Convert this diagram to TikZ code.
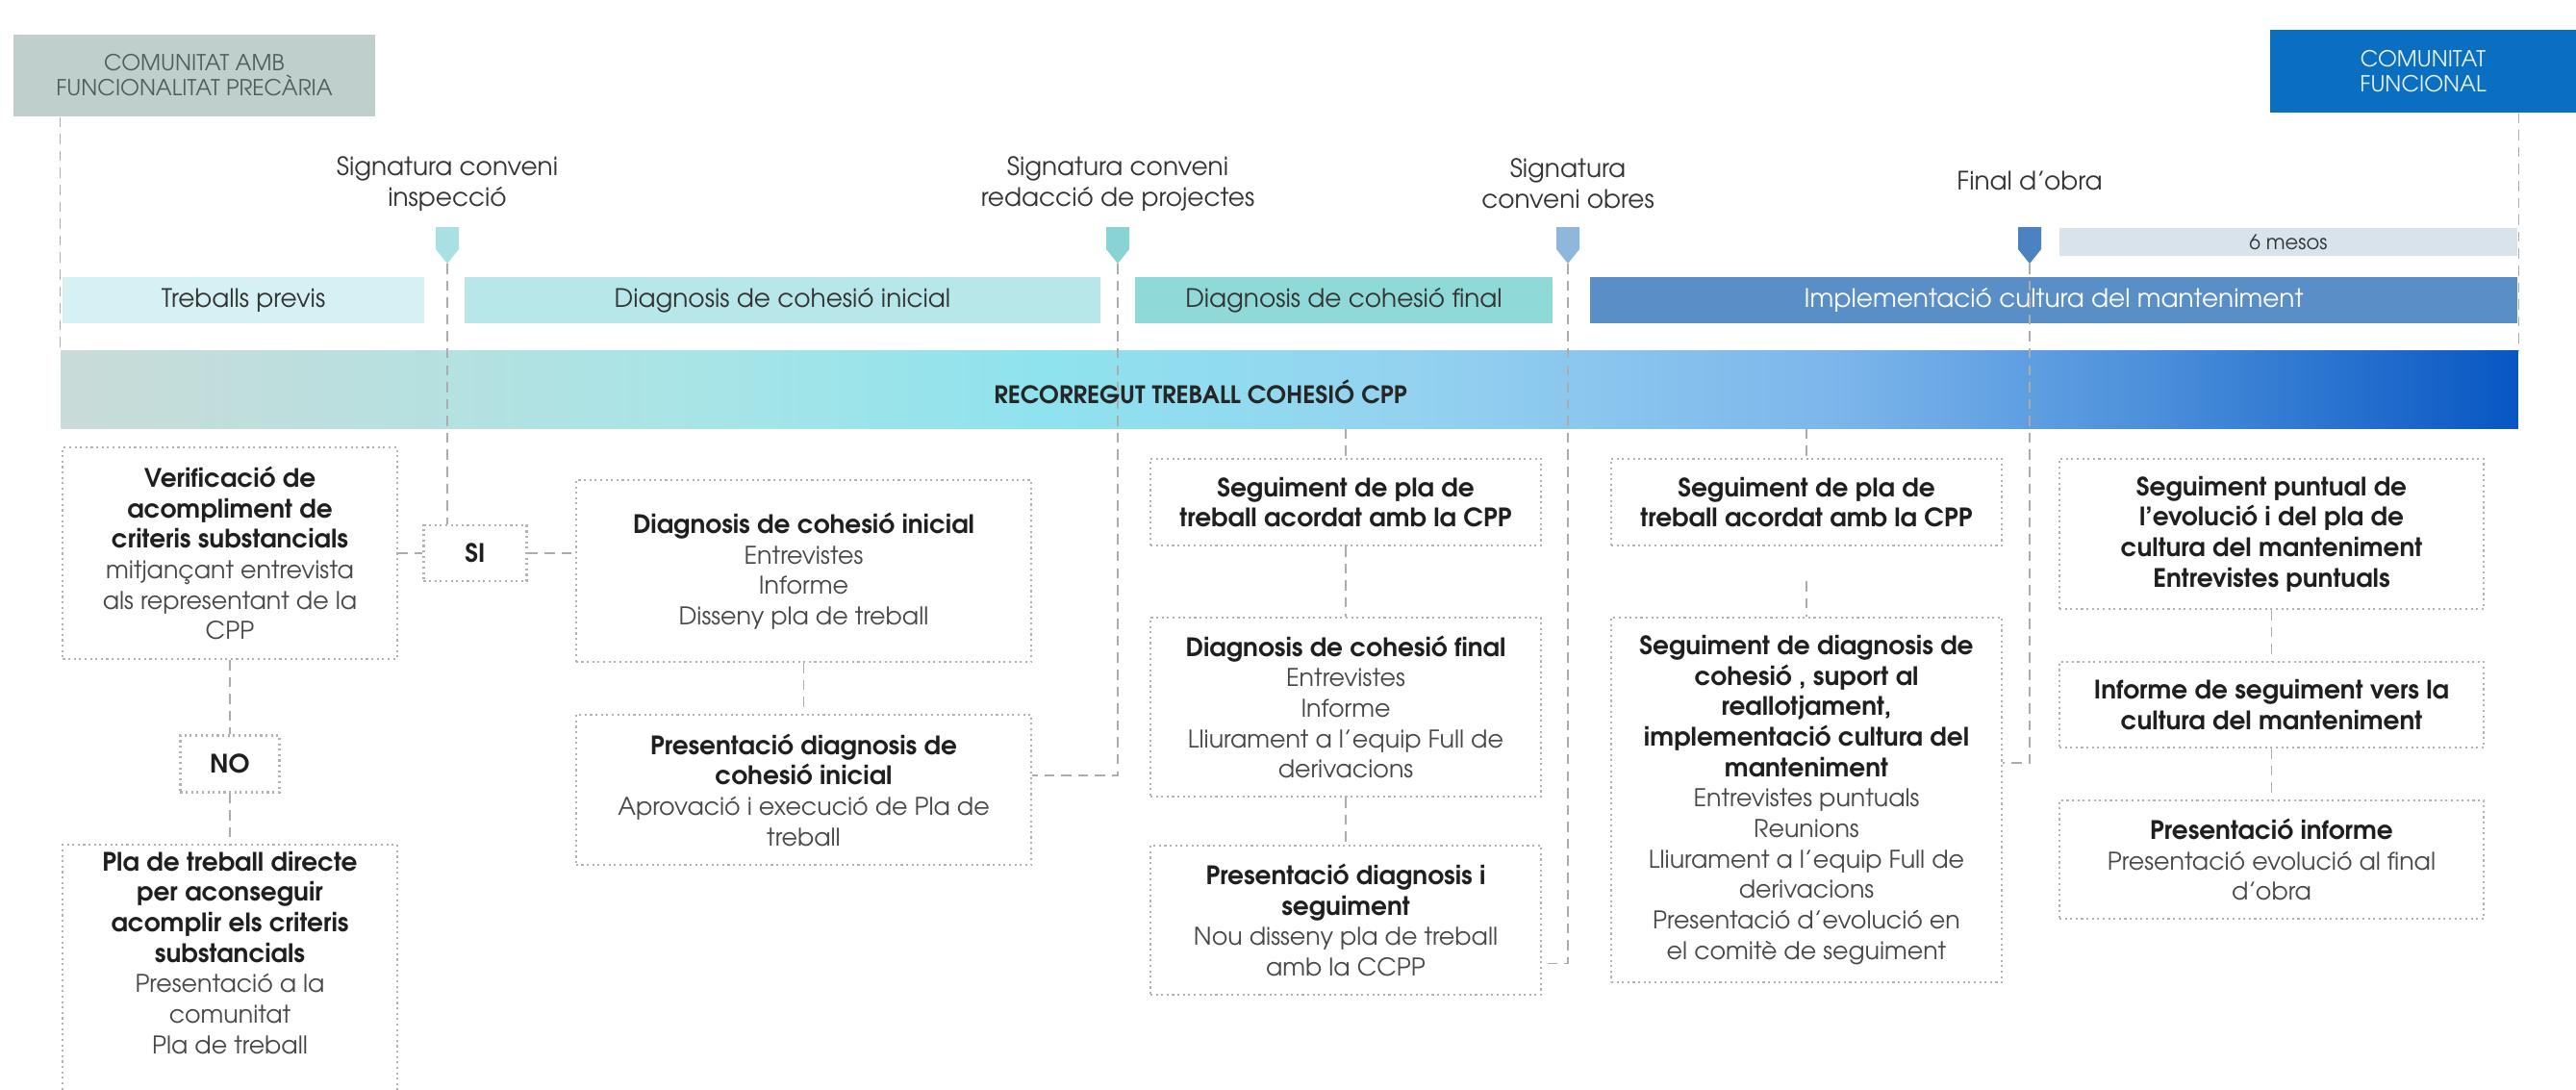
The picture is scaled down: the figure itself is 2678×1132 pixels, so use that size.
\documentclass[tikz,border=0pt]{standalone}
\usepackage{fontspec}
\setmainfont{TeX Gyre Adventor}

% colours of the picture
\definecolor{grisverd}{HTML}{BFD0CC}
\definecolor{grisfosc}{HTML}{4F5F5C}
\definecolor{blaufosc}{HTML}{0B6FC1}
\definecolor{faseA}{HTML}{D6F1F3}
\definecolor{faseB}{HTML}{B8E7E9}
\definecolor{faseC}{HTML}{90D9D9}
\definecolor{faseD}{HTML}{5A8EC6}
\definecolor{mesos}{HTML}{D8E3EB}
\definecolor{fitaA}{HTML}{A9E0E3}
\definecolor{fitaB}{HTML}{8AD3D4}
\definecolor{fitaC}{HTML}{8FB6DB}
\definecolor{fitaD}{HTML}{4B82BF}
\definecolor{gr0}{HTML}{C9DBD8}
\definecolor{gr1}{HTML}{A9E4E6}
\definecolor{gr2}{HTML}{8FE3EE}
\definecolor{gr3}{HTML}{94D2F0}
\definecolor{gr4}{HTML}{7DB6EB}
\definecolor{gr5}{HTML}{4C90DB}
\definecolor{gr6}{HTML}{0756C3}

\pgfdeclarehorizontalshading{recorregut}{100bp}{color(0bp)=(gr0); color(25bp)=(gr0);
  color(37.5bp)=(gr1); color(45bp)=(gr2); color(52.5bp)=(gr3); color(61bp)=(gr4);
  color(67.5bp)=(gr5); color(75bp)=(gr6); color(100bp)=(gr6)}

\newcommand{\fita}[3]{% #1: name of the tip, #2: x, #3: colour
	\fill[#3] (#2-12,236) -- (#2+12,236) -- (#2+12,259) -- (#2,274) -- (#2-12,259) -- cycle;
	\coordinate (#1) at (#2,274);
}
\newcommand{\negreta}[1]{{\fontsize{7.5}{9}\selectfont\bfseries\color{black!88}#1}}

\begin{document}
\begin{tikzpicture}[x=0.01cm,y=-0.01cm,
	caixa/.style={draw=gray!60,densely dotted,line width=0.6pt,align=center,inner sep=2pt,text=black!72,font=\fontsize{7.2}{9}\selectfont},
	fase/.style={minimum height=0.48cm,inner sep=0pt,text=black!80,font=\fontsize{7.5}{9}\selectfont},
	etiq/.style={align=center,text=black!80,font=\fontsize{7.5}{9}\selectfont},
	enllac/.style={draw=gray!65,dash pattern=on 3pt off 2pt,line width=0.45pt}]
					\useasboundingbox (0,0) rectangle (2678,1132);
					
					% Start and end of the road
					\node[fill=grisverd,minimum width=3.76cm,minimum height=0.85cm,align=center,text=grisfosc,font=\fontsize{6.5}{7.4}\selectfont] (esq) at (202,78.5) {COMUNITAT AMB\\FUNCIONALITAT PRECÀRIA};
					\node[fill=blaufosc,minimum width=3.18cm,minimum height=0.86cm,align=center,text=white!90!blaufosc,font=\fontsize{6.5}{7.4}\selectfont] (dre) at (2519,74) {COMUNITAT\\FUNCIONAL};
					
					% Milestones
					\node[etiq] (lbl1) at (465,191) {Signatura conveni\\inspecció};
					\node[etiq] (lbl2) at (1162,191) {Signatura conveni\\redacció de projectes};
					\node[etiq] (lbl3) at (1630,191) {Signatura\\conveni obres};
					\node[etiq] (lbl4) at (2110,188) {Final d’obra};
					\fita{m1}{465}{fitaA}
					\fita{m2}{1162}{fitaB}
					\fita{m3}{1630}{fitaC}
					\fita{m4}{2110}{fitaD}
					
					% Phases
					\node[fase,fill=mesos,minimum width=4.76cm,minimum height=0.29cm,font=\fontsize{6}{7}\selectfont] (mesos) at (2379,251.5) {6 mesos};
					\node[fase,fill=faseA,minimum width=3.76cm] (previs) at (253,312) {Treballs previs};
					\node[fase,fill=faseB,minimum width=6.61cm] (fdiagini) at (813.5,312) {Diagnosis de cohesió inicial};
					\node[fase,fill=faseC,minimum width=4.34cm] (fdiagfin) at (1397,312) {Diagnosis de cohesió final};
					\node[fase,fill=faseD,minimum width=9.64cm,text=white] (fimpl) at (2135,312) {Implementació cultura del manteniment};
					
					% Main bar
					\node[shading=recorregut,minimum width=25.53cm,minimum height=0.8cm,inner sep=0pt] (bar) at (1340.5,405) {};
					\node[font=\bfseries\fontsize{7.1}{8}\selectfont,text=black!85] (recorregut) at (1248,407) {RECORREGUT TREBALL COHESIÓ CPP};
					
					% Boxes
					\node[caixa,minimum width=3.47cm,minimum height=2.2cm] (verif) at (239,575) {\negreta{Verificació de}\\\negreta{acompliment de}\\\negreta{criteris substancials}\\mitjançant entrevista\\als representant de la\\CPP};
					\node[caixa,minimum width=1.07cm,minimum height=0.58cm] (si) at (494,575) {\negreta{SI}};
					\node[caixa,minimum width=1.03cm,minimum height=0.59cm] (no) at (239,794) {\negreta{NO}};
					\node[caixa,minimum width=3.47cm,minimum height=2.5cm] (pla) at (239,1136) {\negreta{Pla de treball directe}\\\negreta{per aconseguir}\\\negreta{acomplir els criteris}\\\negreta{substancials}\\Presentació a la\\comunitat\\Pla de treball\\[2.6cm]};
					\node[caixa,minimum width=4.73cm,minimum height=1.89cm] (diagini) at (835.5,593.5) {\negreta{Diagnosis de cohesió inicial}\\Entrevistes\\Informe\\Disseny pla de treball};
					\node[caixa,minimum width=4.73cm,minimum height=1.56cm] (presini) at (835.5,821) {\negreta{Presentació diagnosis de}\\\negreta{cohesió inicial}\\Aprovació i execució de Pla de\\treball};
					\node[caixa,minimum width=4.06cm,minimum height=0.9cm] (seg1) at (1399,522) {\negreta{Seguiment de pla de}\\\negreta{treball acordat amb la CPP}};
					\node[caixa,minimum width=4.06cm,minimum height=1.86cm] (diagfin) at (1399,735) {\negreta{Diagnosis de cohesió final}\\Entrevistes\\Informe\\Lliurament a l’equip Full de\\derivacions};
					\node[caixa,minimum width=4.06cm,minimum height=1.55cm] (presseg) at (1399,956.5) {\negreta{Presentació diagnosis i}\\\negreta{seguiment}\\Nou disseny pla de treball\\amb la CCPP};
					\node[caixa,minimum width=4.06cm,minimum height=0.9cm] (seg2) at (1878,522) {\negreta{Seguiment de pla de}\\\negreta{treball acordat amb la CPP}};
					\node[caixa,minimum width=4.06cm,minimum height=3.79cm] (segdiag) at (1878,831.5) {\negreta{Seguiment de diagnosis de}\\\negreta{cohesió , suport al}\\\negreta{reallotjament,}\\\negreta{implementació cultura del}\\\negreta{manteniment}\\Entrevistes puntuals\\Reunions\\Lliurament a l’equip Full de\\derivacions\\Presentació d’evolució en\\el comitè de seguiment};
					\node[caixa,minimum width=4.41cm,minimum height=1.56cm] (puntual) at (2361.5,555) {\negreta{Seguiment puntual de}\\\negreta{l’evolució i del pla de}\\\negreta{cultura del manteniment}\\\negreta{Entrevistes puntuals}};
					\node[caixa,minimum width=4.41cm,minimum height=0.89cm] (informe) at (2361.5,732.5) {\negreta{Informe de seguiment vers la}\\\negreta{cultura del manteniment}};
					\node[caixa,minimum width=4.41cm,minimum height=1.23cm] (presinf) at (2361.5,893.5) {\negreta{Presentació informe}\\Presentació evolució al final\\d’obra};
					
					% Guide lines
					\draw[enllac] (esq.south -| bar.west) -- (bar.north west);
					\draw[enllac] (dre.south -| bar.east) -- (bar.north east);
					\draw[enllac] (m1) -- (m1 |- si.north);
					\draw[enllac] (m2) |- ([yshift=0.15cm]presini.east);
					\draw[enllac] (m3) |- ([yshift=-0.45cm]presseg.east);
					\draw[enllac] (m4) |- ([yshift=0.385cm]segdiag.east);
					
					% Connections between boxes
					\draw[enllac] (verif.east) -- (si.west);
					\draw[enllac] (si.east) -- (si.east -| diagini.west);
					\draw[enllac] (verif.south) -- (no.north);
					\draw[enllac] (no.south) -- (pla.north);
					\draw[enllac] (diagini.south) -- (presini.north);
					\draw[enllac] (bar.south -| seg1.north) -- (seg1.north);
					\draw[enllac] (seg1.south) -- (diagfin.north);
					\draw[enllac] (diagfin.south) -- (presseg.north);
					\draw[enllac] (bar.south -| seg2.north) -- (seg2.north);
					\draw[enllac,shorten <=0.36cm] (seg2.south) -- (segdiag.north);
					\draw[enllac] (puntual.south) -- (informe.north);
					\draw[enllac] (informe.south) -- (presinf.north);
				\end{tikzpicture}
\end{document}
